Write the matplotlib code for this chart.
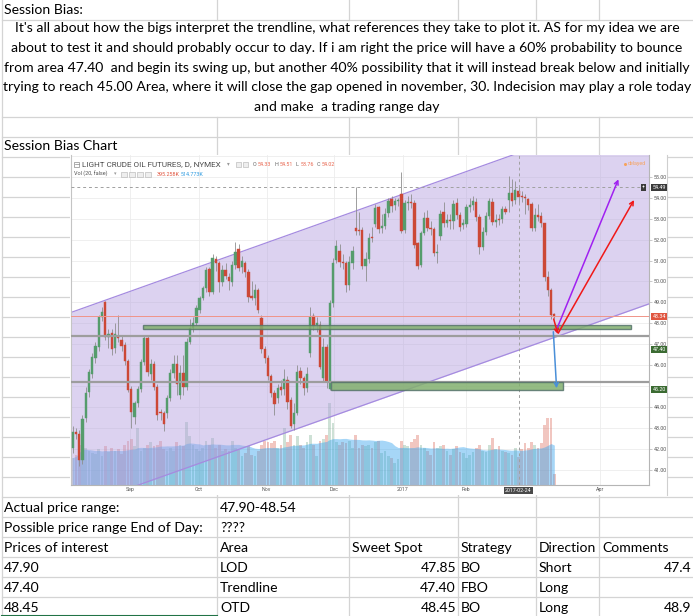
import matplotlib
matplotlib.use("Agg")
import matplotlib.pyplot as plt
import matplotlib.transforms as mtrans
from matplotlib.patches import Rectangle
import numpy as np
import pandas as pd

# ---------------- chart data (daily bars) ----------------
opens = [42.03, 42.80, 42.70, 41.48, 43.47, 44.74, 45.57, 46.36, 46.89, 48.32,
         49.00, 47.36, 47.52, 46.80, 47.36, 47.20, 46.97, 46.20, 44.87, 43.55,
         44.18, 44.87, 46.14, 47.32, 45.57, 46.04, 44.98, 43.78, 43.70, 43.74,
         44.42, 45.62, 46.04, 44.58, 45.62, 44.98, 47.13, 47.76, 48.00, 48.64,
         49.20, 49.67, 50.58, 49.51, 51.06, 50.87, 49.99, 50.55, 50.23, 49.99,
         50.79, 51.53, 50.67, 50.87, 50.47, 49.32, 49.20, 49.59, 48.24, 46.76,
         46.33, 45.49, 44.66, 44.42, 44.95, 44.85, 45.30, 44.34, 43.20, 43.74,
         45.74, 45.38, 44.90, 46.57, 48.35, 47.90, 47.92, 45.38, 46.89, 44.85,
         48.95, 51.02, 51.47, 50.94, 50.90, 49.83, 50.90, 52.53, 52.46, 52.46,
         50.74, 51.06, 52.12, 52.74, 53.54, 52.53, 52.65, 53.25, 53.92, 53.65,
         53.86, 54.20, 52.46, 53.74, 53.80, 53.73, 51.82, 50.78, 52.30, 53.01,
         52.53, 52.49, 51.35, 52.17, 53.33, 52.80, 52.95, 52.90, 53.73, 53.17,
         52.70, 52.74, 53.57, 53.65, 53.81, 53.09, 51.66, 52.38, 53.12, 53.81,
         52.85, 52.97, 52.97, 53.44, 53.89, 54.24, 53.89, 54.33, 54.05, 54.02,
         53.92, 53.70, 52.53, 53.17, 53.12, 52.77, 50.20, 49.59, 48.45]
highs = [43.10, 43.00, 42.90, 43.60, 44.95, 45.80, 46.60, 47.10, 48.40, 48.80,
         49.05, 47.75, 47.75, 48.00, 48.40, 47.40, 47.10, 46.30, 45.00, 44.30,
         45.00, 46.30, 47.45, 47.40, 46.30, 46.20, 45.10, 43.90, 43.80, 44.60,
         45.80, 46.50, 46.50, 46.00, 46.50, 47.30, 48.20, 48.30, 48.90, 49.30,
         49.80, 50.70, 50.70, 51.30, 51.20, 51.00, 50.80, 50.90, 50.40, 51.00,
         51.90, 51.80, 51.20, 51.00, 50.60, 50.00, 49.90, 49.70, 48.40, 46.90,
         46.50, 45.60, 44.80, 45.10, 45.30, 45.80, 45.50, 44.50, 44.20, 46.00,
         45.90, 45.50, 45.90, 48.80, 48.50, 48.30, 48.10, 47.30, 47.00, 49.10,
         51.10, 52.00, 51.80, 51.30, 51.00, 51.20, 51.70, 54.50, 53.30, 52.60,
         51.40, 52.30, 52.60, 53.70, 53.60, 53.20, 53.50, 54.00, 54.10, 54.00,
         54.00, 55.24, 53.90, 54.10, 54.20, 53.90, 51.90, 52.40, 53.30, 53.40,
         52.90, 52.60, 51.80, 53.40, 53.80, 53.20, 53.20, 53.90, 54.00, 53.30,
         53.00, 53.70, 54.00, 54.10, 54.00, 53.20, 52.60, 53.30, 54.00, 54.00,
         53.20, 53.20, 53.60, 53.60, 55.03, 54.90, 54.80, 54.51, 54.30, 54.20,
         54.00, 53.80, 53.50, 53.70, 53.30, 52.80, 50.50, 49.70, 48.50]
lows = [41.80, 42.50, 41.20, 41.30, 43.30, 44.50, 45.40, 46.10, 46.70, 48.10,
        47.20, 46.80, 46.50, 46.60, 47.10, 46.70, 46.00, 44.70, 43.00, 43.20,
        44.00, 44.70, 46.00, 45.50, 45.30, 44.80, 43.40, 43.40, 42.85, 43.50,
        44.30, 45.40, 44.60, 44.40, 44.60, 44.80, 47.00, 47.60, 47.90, 48.50,
        49.10, 49.50, 49.30, 49.40, 50.50, 49.50, 49.80, 50.10, 49.60, 49.80,
        50.60, 50.50, 50.40, 50.20, 49.00, 49.10, 48.90, 48.50, 46.60, 46.10,
        45.30, 44.50, 43.60, 44.20, 44.60, 44.60, 43.90, 43.00, 42.90, 43.60,
        45.10, 44.60, 44.70, 46.40, 47.70, 47.60, 45.80, 45.20, 44.90, 44.80,
        48.80, 50.90, 50.70, 50.60, 49.50, 49.60, 50.60, 52.20, 52.20, 50.60,
        50.00, 50.90, 51.90, 52.60, 52.30, 52.30, 52.50, 53.10, 53.30, 53.40,
        53.60, 52.30, 52.30, 53.40, 53.50, 51.60, 50.60, 50.70, 52.20, 52.40,
        52.20, 51.20, 50.90, 52.00, 52.60, 52.60, 52.50, 52.50, 53.00, 52.40,
        52.50, 52.60, 53.30, 53.40, 52.90, 51.30, 51.50, 52.20, 53.00, 52.70,
        52.60, 52.70, 52.80, 53.20, 53.30, 53.60, 53.70, 53.76, 53.80, 53.20,
        53.40, 52.40, 52.40, 52.90, 52.60, 50.00, 49.30, 48.20, 48.20]
closes = [42.83, 42.70, 41.48, 43.43, 44.66, 45.66, 46.41, 46.92, 48.32, 48.56,
          47.36, 47.50, 46.78, 47.50, 47.28, 46.93, 46.20, 44.82, 43.78, 44.18,
          44.87, 46.14, 47.32, 45.66, 46.04, 44.98, 43.62, 43.70, 43.18, 44.42,
          45.62, 46.04, 45.09, 45.62, 44.98, 47.13, 47.80, 48.00, 48.72, 49.20,
          49.67, 50.55, 49.51, 51.10, 50.87, 49.99, 50.55, 50.28, 50.04, 50.79,
          51.42, 50.63, 51.00, 50.47, 49.27, 49.20, 49.59, 48.64, 46.76, 46.33,
          45.49, 44.66, 44.15, 44.93, 44.82, 45.33, 44.26, 43.10, 43.74, 45.70,
          45.38, 44.90, 45.57, 48.32, 47.87, 48.00, 45.93, 46.89, 45.22, 48.95,
          50.90, 51.69, 50.94, 50.90, 49.83, 50.94, 51.47, 52.42, 52.40, 50.74,
          51.06, 52.06, 52.06, 53.49, 52.49, 52.65, 53.22, 53.86, 53.60, 53.85,
          53.90, 52.42, 53.76, 53.78, 53.73, 51.74, 50.74, 52.30, 53.01, 52.53,
          52.49, 51.37, 51.40, 53.22, 52.80, 52.92, 52.90, 53.70, 53.17, 52.61,
          52.80, 53.57, 53.65, 53.86, 53.09, 51.66, 52.38, 53.12, 53.86, 52.85,
          52.95, 52.93, 53.44, 53.33, 54.24, 53.86, 54.36, 54.02, 54.02, 53.98,
          53.65, 52.53, 53.17, 53.10, 52.77, 50.20, 49.59, 48.40, 48.32]
volumes = [380, 420, 560, 610, 520, 470, 450, 430, 500, 410,
           540, 460, 520, 470, 500, 430, 560, 610, 640, 540,
           800, 480, 520, 560, 600, 540, 560, 610, 500, 470,
           520, 480, 600, 560, 550, 880, 690, 560, 500, 480,
           520, 620, 560, 660, 520, 560, 470, 500, 480, 610,
           520, 490, 400, 450, 540, 420, 400, 480, 560, 620,
           600, 580, 620, 520, 560, 800, 600, 700, 560, 680,
           560, 520, 600, 700, 560, 400, 620, 640, 700, 1150,
           860, 600, 560, 600, 580, 620, 520, 700, 520, 560,
           540, 560, 520, 600, 620, 440, 480, 400, 380, 300,
           360, 620, 560, 540, 600, 640, 700, 560, 520, 480,
           420, 600, 520, 540, 560, 480, 420, 500, 540, 460,
           440, 380, 420, 460, 520, 560, 480, 460, 560, 660,
           500, 540, 480, 460, 440, 420, 520, 395, 500, 580,
           520, 600, 560, 520, 580, 830, 940, 940, 150]

tick_idx = [17.7, 38.8, 59.6, 80.3, 101.4, 120.9, 162.0]
tick_lbl = ['Sep', 'Oct', 'Nov', 'Dec', '2017', 'Feb', 'Apr']
cursor_idx = 137
cursor_lbl = '2017-02-24'
price_ticks = list(range(41, 57))
hidden_ticks = [45, 56]   # covered by the 45.20 tag / cut at the top

# drawings on the chart (bar index / price)
chan_x = [-0.52, 177.1]
chan_top = [48.52, 58.36]
chan_bot = [39.14, 48.93]
zone_x0 = [21.7, 79.3]
zone_x1 = [171.5, 150.8]
zone_lo = [47.71, 44.84]
zone_hi = [47.92, 45.20]
level_lines = [47.41, 45.21]
level_lbl = ['47.40', '45.20']
last_price = 48.34
cursor_price = 54.49
arrow_x0 = [148.5, 149.2, 147.8, 147.7]
arrow_y0 = [47.63, 47.53, 48.21, 47.60]
arrow_x1 = [167.7, 172.5, 149.1, 148.7]
arrow_y1 = [54.88, 53.89, 47.49, 44.90]
arrow_col = ['#a020f0', '#f01818', '#f01818', '#4a8fd8']

# ---------------- spreadsheet text ----------------
title1 = "Session Bias:"
para = ["It's all about how the bigs interpret the trendline, what references they take to plot it. AS for my idea we are",
        "about to test it and should probably occur to day. If i am right the price will have a 60% probability to bounce",
        "from area 47.40  and begin its swing up, but another 40% possibility that it will instead break below and initially",
        "trying to reach 45.00 Area, where it will close the gap opened in november, 30. Indecision may play a role today",
        "and make  a trading range day"]
title2 = "Session Bias Chart"
table_rows = [
    ["Actual price range:", "47.90-48.54", "", "", "", ""],
    ["Possible price range End of Day:", "????", "", "", "", ""],
    ["Prices of interest", "Area", "Sweet Spot", "Strategy", "Direction", "Comments"],
    ["47.90", "LOD", "47.85", "BO", "Short", "47.4"],
    ["47.40", "Trendline", "47.40", "FBO", "Long", ""],
    ["48.45", "OTD", "48.45", "BO", "Long", "48.9"],
]

W, H = 693, 616
plt.rcParams['font.family'] = ['Lato', 'DejaVu Sans']
fig = plt.figure(figsize=(W / 100, H / 100), dpi=100)


def px_axes(x0, y0, x1, y1, z):
    a = fig.add_axes([x0 / W, 1 - y1 / H, (x1 - x0) / W, (y1 - y0) / H])
    a.set_zorder(z)
    return a


# sheet background
bg = px_axes(0, 0, W, H, 0)
bg.set_xlim(0, W)
bg.set_ylim(H, 0)
bg.axis('off')
gc = '#d4d4d4'
col_lines = [217, 349, 458, 536, 599]
row_lines = [20, 116.7] + [136.7 + 20 * k for k in range(25)]
for y in row_lines:
    bg.plot([2, W], [y, y], color=gc, lw=0.9)
for x in col_lines:
    bg.plot([x, x], [0, 20], color=gc, lw=0.9)
    bg.plot([x, x], [116.7, H], color=gc, lw=0.9)
bg.plot([2, 2], [0, H], color=gc, lw=0.9)

fs = 10.1
bg.text(4, 10.5, title1, fontsize=fs, va='center')
for i, line in enumerate(para):
    bg.text(347, 28.5 + i * 19.6, line, fontsize=fs, va='center', ha='center')
bg.text(4, 146.5, title2, fontsize=fs, va='center')

col_x = [4, 220, 352, 461, 539, 602]
col_r = [215, 347, 456, 534, 597, 691]
for r, row in enumerate(table_rows):
    yc = 496.7 + 20 * r + 11
    for c, txt in enumerate(row):
        if not txt:
            continue
        if r >= 3 and c in (2, 5):
            bg.text(col_r[c], yc, txt, fontsize=fs, va='center', ha='right')
        else:
            bg.text(col_x[c], yc, txt, fontsize=fs, va='center')
bg.plot([2, 217], [615.5, 615.5], color='#217346', lw=1.5)

# chart picture area
bg.add_patch(Rectangle((70, 155), 597, 340, fc='white', ec='none', zorder=5))
bg.plot([667, 667], [155, 495], color='#cfcfcf', lw=0.8, zorder=6)

x = np.arange(len(opens))
o = np.array(opens); c = np.array(closes)
hi = np.array(highs); lo = np.array(lows)
up = c >= o
ylo, yhi = 40.28, 56.04
xlo, xhi = -0.52, 177.1

gax = px_axes(71, 155, 649, 485, 1)
gax.patch.set_visible(False)
gax.set_xlim(xlo, xhi); gax.set_ylim(ylo, yhi)
for p in price_ticks:
    gax.axhline(p, color='#ececec', lw=0.6)
for t in tick_idx:
    gax.axvline(t, color='#ececec', lw=0.6)
gax.axis('off')

# volume + its 20 average
vax = px_axes(71, 155, 649, 485, 2)
vax.patch.set_visible(False)
vax.set_xlim(xlo, xhi)
vax.set_ylim(0, 4600)
vcol = np.where(up, '#6ba583', '#d75442')
vax.bar(x, volumes, width=0.85, color=vcol, alpha=0.33, lw=0)
vol_ma = pd.Series(volumes).rolling(20, min_periods=1).mean()
vax.fill_between(x, 0, vol_ma, color='#3aa6ee', alpha=0.45, lw=0)
vax.axis('off')

# price pane
ax = px_axes(71, 155, 649, 485, 3)
ax.patch.set_visible(False)
ax.set_xlim(xlo, xhi)
ax.set_ylim(ylo, yhi)
ax.fill_between(chan_x, chan_bot, chan_top, color='#b39ddf', alpha=0.45, lw=0, zorder=1)
ax.plot(chan_x, chan_top, color='#a58be0', lw=0.9, zorder=2)
ax.plot(chan_x, chan_bot, color='#a58be0', lw=0.9, zorder=2)

ax.vlines(x, lo, hi, color='#8e8e8e', lw=0.6, zorder=3)
body = np.maximum(np.abs(c - o), 0.05)
ccol = np.where(up, '#559c6c', '#cc4836')
ax.bar(x, body, bottom=np.minimum(o, c), width=0.72, color=ccol,
       edgecolor=ccol, lw=0.3, zorder=4)

ax.axhline(last_price, color='#f09488', lw=0.7, zorder=5)
ax.axhline(cursor_price, color='#a0a0a0', lw=0.7, ls=(0, (3, 3)), zorder=5)
ax.axvline(cursor_idx, color='#a0a0a0', lw=0.7, ls=(0, (3, 3)), zorder=5)
for lv in level_lines:
    ax.axhline(lv, color='#9d9d9d', lw=1.6, zorder=5)
for x0, x1, y0, y1 in zip(zone_x0, zone_x1, zone_lo, zone_hi):
    ax.add_patch(Rectangle((x0, y0), x1 - x0, y1 - y0, fc='#82b06e', alpha=0.85,
                           ec='#56736b', lw=1.0, zorder=6))
for xa, ya, xb, yb, col in zip(arrow_x0, arrow_y0, arrow_x1, arrow_y1, arrow_col):
    ax.annotate('', xy=(xb, yb), xytext=(xa, ya), zorder=7,
                arrowprops=dict(arrowstyle='->', color=col, lw=1.1,
                                shrinkA=0, shrinkB=0, mutation_scale=7))

for s in ['top', 'left']:
    ax.spines[s].set_visible(False)
for s in ['right', 'bottom']:
    ax.spines[s].set_color('#b5b5b5')
    ax.spines[s].set_linewidth(0.8)
ax.set_xticks(tick_idx)
ax.set_xticklabels(tick_lbl, fontsize=3.8, color='#555555', family='Roboto')
ax.yaxis.tick_right()
shown = [p for p in price_ticks if p not in hidden_ticks]
ax.set_yticks(shown)
ax.set_yticklabels([f'{p:.2f}' for p in shown], fontsize=3.9,
                   color='#555555', family='Roboto')
ax.tick_params(axis='x', length=0, pad=1.5)
ax.tick_params(axis='y', length=2, width=0.5, color='#b5b5b5', pad=1.5)
ax.plot([xlo, xlo], [ylo, yhi], color='#c4c4c4', lw=0.8, clip_on=False)

# labels on the price scale
tr = mtrans.blended_transform_factory(ax.transAxes, ax.transData)
lab = dict(fontsize=3.9, color='white', family='Roboto', va='center',
           transform=tr, clip_on=False, zorder=9)
ax.text(1.006, cursor_price, '54.49', bbox=dict(fc='#3a3a3a', ec='none', pad=0.7), **lab)
ax.text(0.993, cursor_price, '+', ha='right', bbox=dict(fc='#3a3a3a', ec='none', pad=0.5), **lab)
ax.text(1.006, last_price, '48.34', bbox=dict(fc='#e0553f', ec='none', pad=0.7), **lab)
ax.text(1.006, level_lines[0] - 0.64, level_lbl[0], bbox=dict(fc='#3b6b32', ec='none', pad=0.7), **lab)
ax.text(1.006, level_lines[1] - 0.39, level_lbl[1], bbox=dict(fc='#3b6b32', ec='none', pad=0.7), **lab)
trx = mtrans.blended_transform_factory(ax.transData, ax.transAxes)
ax.text(cursor_idx, -0.017, cursor_lbl, fontsize=3.8, color='white', family='Roboto',
        ha='center', va='center', transform=trx, clip_on=False, zorder=9,
        bbox=dict(fc='#4a4a4a', ec='none', pad=0.8))

# legend header of the chart
ov = px_axes(0, 0, W, H, 10)
ov.set_xlim(0, W); ov.set_ylim(H, 0); ov.axis('off')
ov.add_patch(Rectangle((74, 161.5), 5, 5, fill=False, ec='#8a8a8a', lw=0.5))
ov.plot([74.5, 78.5], [164, 164], color='#8a8a8a', lw=0.5)
ov.text(81.5, 164.2, 'LIGHT CRUDE OIL FUTURES, D, NYMEX', fontsize=5.9, color='#4d4d4d',
        family='Roboto', va='center')
ov.text(227, 164, '▾', fontsize=4, color='#999999', va='center', family='DejaVu Sans')
for xi in [236, 243]:
    ov.add_patch(Rectangle((xi, 161.5), 5, 5, fc='#eeeeee', ec='#b0b0b0', lw=0.4))
ohlc = [('O', '54.33', 253), ('H', '54.51', 274.5), ('L', '53.76', 296), ('C', '54.02', 317)]
for k, v, xp in ohlc:
    ov.text(xp, 164.2, k, fontsize=3.9, color='#666666', family='Roboto', va='center')
    ov.text(xp + 5, 164.2, v, fontsize=3.9, color='#e8664f', family='Roboto', va='center')
ov.text(74, 174, 'Vol (20, false)', fontsize=4.0, color='#555555', family='Roboto', va='center')
ov.text(114, 174, '▾', fontsize=3.6, color='#999999', va='center', family='DejaVu Sans')
for xi in [121, 129, 137, 145]:
    ov.add_patch(Rectangle((xi, 171.5), 5.5, 5, fc='#eeeeee', ec='#b0b0b0', lw=0.4))
ov.text(156.5, 174, '395.258K', fontsize=3.9, color='#e0553f', family='Roboto', va='center')
ov.text(181, 174, '514.773K', fontsize=3.9, color='#2f9be0', family='Roboto', va='center')
ov.plot([624.5], [164], marker='o', ms=2.2, color='#f7a35c', mec='none')
ov.text(627.5, 164, 'delayed', fontsize=3.8, color='#f7a35c', family='Roboto', va='center')

fig.savefig('out.png', dpi=100)
